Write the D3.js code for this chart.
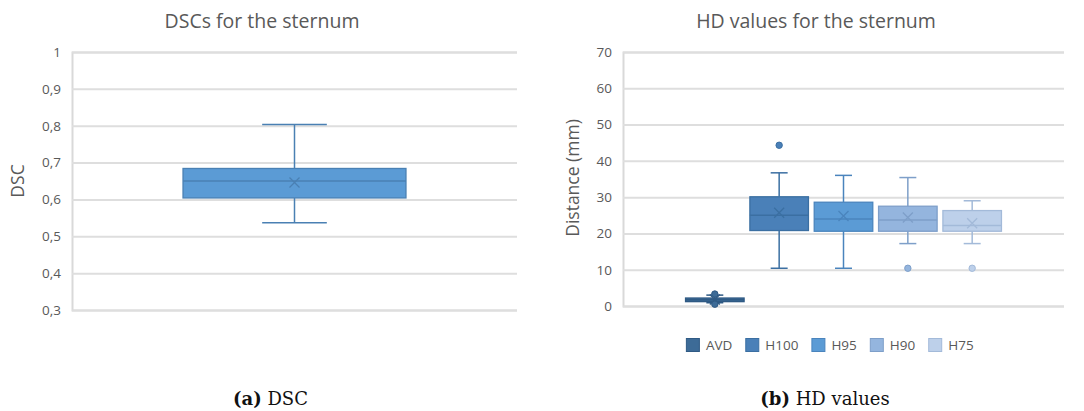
<!DOCTYPE html>
<html><head><meta charset="utf-8">
<script src="https://cdn.jsdelivr.net/npm/d3@7"></script>
<style>
html,body{margin:0;padding:0;background:#fff;}
svg text{font-family:"Open Sans","Noto Sans",sans-serif;}
</style></head>
<body>
<svg id="c" width="1084" height="411"></svg>
<script>
// ---------- data ----------
const dscTicks = [0.3,0.4,0.5,0.6,0.7,0.8,0.9,1];
const dscTickLabels = ["0,3","0,4","0,5","0,6","0,7","0,8","0,9","1"];
const dscStats = {min:0.537, q1:0.604, median:0.650, q3:0.684, max:0.803, mean:0.646, outliers:[]};

const hdTicks = [0,10,20,30,40,50,60,70];
const hdSeries = ["AVD","H100","H95","H90","H75"];
const hdMin     = [0.9, 10.4, 10.4, 17.2, 17.2];
const hdQ1      = [1.2, 20.8, 20.6, 20.6, 20.6];
const hdMedian  = [1.7, 25.0, 24.0, 23.7, 22.2];
const hdQ3      = [2.2, 30.1, 28.6, 27.5, 26.3];
const hdMax     = [3.0, 36.7, 36.0, 35.4, 29.0];
const hdMean    = [1.8, 25.7, 24.8, 24.4, 22.8];
const hdOutliers = [[3.3, 0.5],[44.3],[],[10.4],[10.4]];

const fills   = ["#3d6b97","#4a80b8","#5b9bd5","#94b5de","#bdd0ea"];
const strokes = ["#2f5a84","#3b6fa2","#4a84bd","#7e9fc9","#a3bad9"];

const svg = d3.select("#c");
const grey = "#595959";

function drawBox(g, cx, bw, s, y, fill, stroke){
  const cap = bw*0.29;
  g.append("line").attr("x1",cx).attr("x2",cx).attr("y1",y(s.max)).attr("y2",y(s.q3)).attr("stroke",stroke).attr("stroke-width",1.5);
  g.append("line").attr("x1",cx).attr("x2",cx).attr("y1",y(s.q1)).attr("y2",y(s.min)).attr("stroke",stroke).attr("stroke-width",1.5);
  g.append("line").attr("x1",cx-cap/2).attr("x2",cx+cap/2).attr("y1",y(s.max)).attr("y2",y(s.max)).attr("stroke",stroke).attr("stroke-width",1.5);
  g.append("line").attr("x1",cx-cap/2).attr("x2",cx+cap/2).attr("y1",y(s.min)).attr("y2",y(s.min)).attr("stroke",stroke).attr("stroke-width",1.5);
  g.append("rect").attr("x",cx-bw/2).attr("width",bw).attr("y",y(s.q3)).attr("height",Math.max(1,y(s.q1)-y(s.q3)))
    .attr("fill",fill).attr("stroke",stroke).attr("stroke-width",1.3);
  g.append("line").attr("x1",cx-bw/2).attr("x2",cx+bw/2).attr("y1",y(s.median)).attr("y2",y(s.median)).attr("stroke",stroke).attr("stroke-width",1.5);
  const m = 5, my = y(s.mean);
  g.append("path").attr("d",`M${cx-m},${my-m}L${cx+m},${my+m}M${cx-m},${my+m}L${cx+m},${my-m}`).attr("stroke",stroke).attr("stroke-width",1.3).attr("fill","none");
  s.outliers.forEach(o=>{
    g.append("circle").attr("cx",cx).attr("cy",y(o)).attr("r",3.2).attr("fill",fill).attr("stroke",stroke).attr("stroke-width",1);
  });
}

function drawAxis(x0,x1,y,ticks,labels,labelX){
  const g = svg.append("g");
  const ax = d3.axisLeft(y).tickValues(ticks).tickSize(-(x1-x0)).tickPadding(0)
      .tickFormat((d,i)=>labels ? labels[i] : d);
  g.attr("transform",`translate(${x0},0)`).call(ax);
  g.select(".domain").attr("stroke","#d9d9d9").attr("stroke-width",2);
  g.selectAll(".tick line").attr("stroke","#dedede").attr("stroke-width",2);
  g.selectAll(".tick text").attr("x",labelX-x0).attr("fill",grey).attr("font-size",13.5)
    .style("font-family",'"Open Sans","Noto Sans",sans-serif');
  return g;
}

// ---------- Chart (a) ----------
{
  const x0=72, x1=517;
  const y = d3.scaleLinear().domain([0.3,1]).range([310,52]);
  drawAxis(x0,x1,y,dscTicks,dscTickLabels,61);
  const xb = d3.scaleBand().domain(["sternum"]).range([x0,x1]).paddingInner(0).paddingOuter(0.498);
  const g = svg.append("g");
  drawBox(g, xb("sternum")+xb.bandwidth()/2, xb.bandwidth(), dscStats, y, "#5b9bd5", "#4a80b3");
  svg.append("text").attr("x",262).attr("y",28).attr("text-anchor","middle").attr("font-size",19.5).attr("fill",grey).text("DSCs for the sternum");
  svg.append("text").attr("transform","translate(24,181) rotate(-90)").attr("text-anchor","middle").attr("font-size",17.5).attr("fill",grey).text("DSC");
}

// ---------- Chart (b) ----------
{
  const x0=623, x1=1064;
  const y = d3.scaleLinear().domain([0,70]).range([306,52]);
  drawAxis(x0,x1,y,hdTicks,null,612);
  const xc = d3.scaleBand().domain(["sternum"]).range([x0,x1]).paddingInner(0).paddingOuter(0.198);
  const xs = d3.scaleBand().domain(hdSeries).range([0,xc.bandwidth()]).paddingInner(0.09).paddingOuter(0);
  const g = svg.append("g");
  hdSeries.forEach((s,i)=>{
    const st = {min:hdMin[i],q1:hdQ1[i],median:hdMedian[i],q3:hdQ3[i],max:hdMax[i],mean:hdMean[i],outliers:hdOutliers[i]};
    const cx = xc("sternum")+xs(s)+xs.bandwidth()/2;
    drawBox(g, cx, xs.bandwidth(), st, y, fills[i], strokes[i]);
  });
  svg.append("text").attr("x",816).attr("y",28).attr("text-anchor","middle").attr("font-size",19.5).attr("fill",grey).text("HD values for the sternum");
  svg.append("text").attr("transform","translate(579,178) rotate(-90)").attr("text-anchor","middle").attr("font-size",17.5).attr("fill",grey).text("Distance (mm)");

  // legend
  const lg = svg.append("g");
  let x = 0;
  hdSeries.forEach((s,i)=>{
    const it = lg.append("g").attr("transform",`translate(${x},0)`);
    it.append("rect").attr("x",0).attr("y",-6.5).attr("width",13).attr("height",13).attr("fill",fills[i]).attr("stroke",strokes[i]).attr("stroke-width",1);
    const t = it.append("text").attr("x",19.5).attr("y",4.8).attr("font-size",13.5).attr("fill",grey).text(s);
    x += 19.5 + t.node().getComputedTextLength() + 13.5;
  });
  const total = x - 13.5;
  lg.attr("transform",`translate(${830 - total/2},345)`);
}

// ---------- captions ----------
function caption(cx, lab, txt){
  const t = svg.append("text").attr("x",cx).attr("y",405).attr("text-anchor","middle")
    .style("font-family",'"DejaVu Serif","Liberation Serif",serif').attr("font-size",18).attr("fill","#111");
  t.append("tspan").attr("font-weight","bold").text(lab);
  t.append("tspan").text(" "+txt);
}
caption(270.5,"(a)","DSC");
caption(825,"(b)","HD values");
</script>
</body></html>
